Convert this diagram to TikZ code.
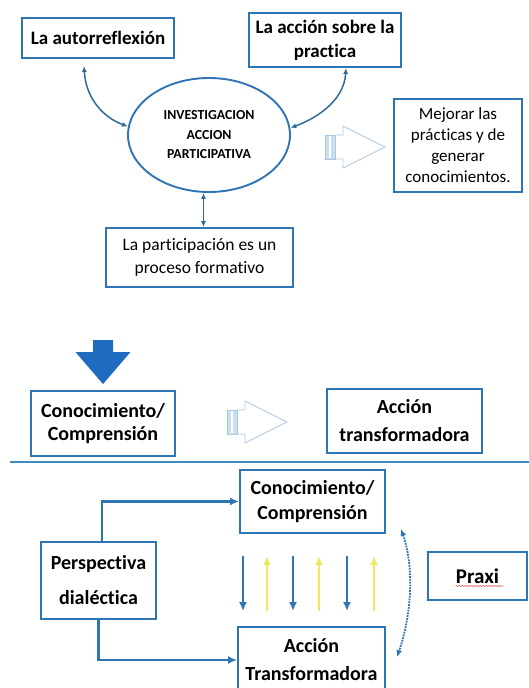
\documentclass[tikz,border=0pt]{standalone}
\usepackage{fontspec}
\setmainfont[Ligatures=NoCommon]{Carlito}
\usetikzlibrary{arrows,arrows.meta,shapes,decorations.pathmorphing}
\definecolor{boxblue}{HTML}{2E75B6}
\definecolor{linkblue}{HTML}{2F6B9A}
\definecolor{darkarrow}{HTML}{1E6BBF}
\definecolor{paleblue}{HTML}{A9C8E4}
\definecolor{yellowarrow}{HTML}{EEE860}
\definecolor{ruleblue}{HTML}{3C8DBC}
\tikzset{
  box/.style={draw=boxblue, line width=1.9pt, fill=white, align=center, inner sep=2pt},
  boldtext/.style={font=\fontsize{19}{24}\selectfont\bfseries},
  plaintext/.style={font=\fontsize{17.5}{23}\selectfont},
  link/.style={linkblue, line width=1.5pt, {Latex[length=6pt,width=5pt]}-{Latex[length=6pt,width=5pt]}},
  flow/.style={boxblue, line width=2.1pt, -{Latex[length=9pt,width=8pt]}},
}
% striped hollow arrow, tail centre at #1
\newcommand{\stripedarrow}[1]{%
  \begin{scope}[shift={(#1)}]
    \filldraw[draw=paleblue, fill=paleblue!60, line width=0.6pt] (0,-12) rectangle (10,12);
    \draw[white, line width=1.2pt] (5,-11) -- (5,11);
    \draw[paleblue, line width=0.8pt] (10,-12) -- (18,-12) -- (18,-21) -- (60,0) -- (18,21) -- (18,12) -- (10,12);
  \end{scope}}

\begin{document}
\begin{tikzpicture}[x=1pt, y=-1pt]
        \useasboundingbox (0,0) rectangle (529,688);
        \clip (0,0) rectangle (529,688);
        % upper part
        \node[box, minimum width=152pt, minimum height=40pt, boldtext] (auto) at (98,38) {La autorreflexión};
        \node[box, minimum width=152pt, minimum height=54pt, boldtext] (accion) at (325,40) {La acción sobre la\\practica};
        \node[ellipse, draw=boxblue, line width=1.9pt, minimum width=162pt, minimum height=114pt, align=center,
              font=\fontsize{13.8}{19.5}\selectfont\bfseries] (elli) at (209,135) {INVESTIGACION\\ACCION\\PARTICIPATIVA};
        \node[box, minimum width=128pt, minimum height=93pt, font=\fontsize{17}{21}\selectfont] (mejora) at (458,145.5)
              {Mejorar las\\prácticas y de\\generar\\conocimientos.};
        \node[box, minimum width=187pt, minimum height=59pt, plaintext] (part) at (199.5,257.5) {La participación es un\\proceso formativo};

        \draw[link] ([xshift=-14pt,yshift=-7pt]auto.south) .. controls +(2,35) and +(-22,-8) .. (elli.174);
        \draw[link] ([xshift=21pt]accion.south) .. controls +(-2,35) and +(22,-8) .. (elli.5);
        \draw[link] ([xshift=4pt]part.north) -- ([xshift=4pt]part.north |- elli.south);
        \coordinate (arrA) at (325,147);
        \stripedarrow{arrA}

        % middle part
        \node[box, minimum width=144pt, minimum height=65pt, font=\fontsize{20}{23}\selectfont\bfseries] (conoc) at (103,423.5) {Conocimiento/\\Comprensión};
        \node[box, minimum width=155pt, minimum height=64pt, font=\fontsize{20}{28}\selectfont\bfseries] (transf) at (404.5,421) {Acción\\transformadora};
        \fill[darkarrow] ([yshift=6pt]conoc.north) -- +(-27.5,-32) -- +(-10,-32) -- +(-10,-44) -- +(10,-44) -- +(10,-32) -- +(27.5,-32) -- cycle;
        \coordinate (arrB) at (227,422);
        \stripedarrow{arrB}
        \draw[ruleblue, line width=1.4pt] (10,462) -- (529,462);

        % lower part
        \node[box, minimum width=145pt, minimum height=63pt, font=\fontsize{20}{25}\selectfont\bfseries] (conoc2) at (312.5,501.5) {Conocimiento/\\Comprensión};
        \node[box, minimum width=115pt, minimum height=77pt, font=\fontsize{20}{35}\selectfont\bfseries] (persp) at (98.5,580.5) {Perspectiva\\dialéctica};
        \node[box, minimum width=147pt, minimum height=66pt, font=\fontsize{20}{28}\selectfont\bfseries] (accion2) at (311.5,660) {Acción\\Transformadora};
        \node[box, minimum width=99pt, minimum height=48pt, font=\fontsize{21}{25}\selectfont\bfseries] (praxi) at (477.5,576) {Praxi};
        \draw[red!70, line width=0.5pt, decorate, decoration={snake, amplitude=0.6pt, segment length=3pt}]
              ([xshift=-22pt,yshift=-10pt]praxi.center) -- ([xshift=26pt,yshift=-10pt]praxi.center);

        \draw[flow] ([xshift=3.5pt]persp.north) |- (conoc2.west);
        \draw[flow] (persp.south) |- (accion2.west);
        \coordinate (high) at ([yshift=-22pt]conoc2.south);
        \coordinate (low) at ([yshift=15pt]accion2.north);
        \foreach \x in {243,293,347}
            \draw[flow] (high -| \x,0) -- (low -| \x,0);
        \foreach \x in {267,319,374}
            \draw[yellowarrow, line width=2.1pt, -{Latex[length=9pt,width=8pt]}] (low -| \x,0) -- (high -| \x,0);
        \draw[boxblue, line width=1.8pt, densely dotted, {Latex[length=7pt,width=6pt]}-{Latex[length=7pt,width=6pt]}]
              ([xshift=15pt,yshift=5pt]conoc2.south east)
              .. controls +(14,40) and +(14,-40) .. ([xshift=11pt,yshift=3pt]accion2.east);
\end{tikzpicture}
\end{document}
